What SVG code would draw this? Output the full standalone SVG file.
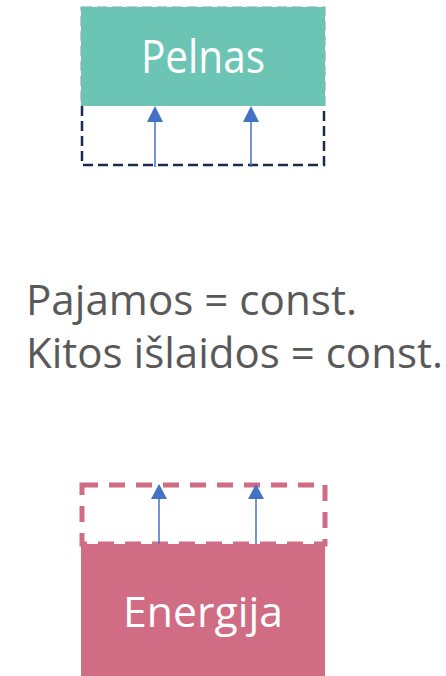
<svg xmlns="http://www.w3.org/2000/svg" width="446" height="676" viewBox="0 0 446 676">
<style>
.lbl{font-family:"Open Sans","Noto Sans",sans-serif;fill:#ffffff;text-anchor:middle}
.txt{font-family:"Open Sans","Noto Sans",sans-serif;fill:#595959;font-size:42px}
.shaft{stroke:#4472c4;stroke-width:1.5;fill:none}
.head{fill:#4472c4}
</style>
<rect width="446" height="676" fill="#ffffff"/>
<g id="pelnas">
<rect x="82" y="8" width="242" height="157" fill="none" stroke="#1a2a4e" stroke-width="2.5" stroke-dasharray="10,5"/>
<rect x="81" y="7" width="244" height="99" fill="#6cc5b4"/>
<text class="lbl" x="203" y="73" font-size="46" textLength="124" lengthAdjust="spacingAndGlyphs">Pelnas</text>
</g>
<g id="energija">
<rect x="82" y="485" width="243" height="59" fill="none" stroke="#d06d85" stroke-width="5" stroke-dasharray="16,11"/>
<rect x="81" y="544" width="244" height="132" fill="#d06d85"/>
<text class="lbl" x="203" y="627" font-size="42" textLength="160" lengthAdjust="spacingAndGlyphs">Energija</text>
</g>
<g id="texts">
<text class="txt" x="26" y="315" textLength="331" lengthAdjust="spacingAndGlyphs">Pajamos = const.</text>
<text class="txt" x="26" y="368" textLength="417" lengthAdjust="spacingAndGlyphs">Kitos išlaidos = const.</text>
</g>
<g id="connectors">
<line class="shaft" x1="155" y1="167" x2="155" y2="118"/>
<path class="head" d="M147,122 L155,106 L163,122 z"/>
<line class="shaft" x1="251" y1="167" x2="251" y2="118"/>
<path class="head" d="M243,122 L251,106 L259,122 z"/>
<line class="shaft" x1="159" y1="544" x2="159" y2="495"/>
<path class="head" d="M151,499 L159,484 L167,499 z"/>
<line class="shaft" x1="256" y1="544" x2="256" y2="495"/>
<path class="head" d="M248,499 L256,484 L264,499 z"/>
</g>
</svg>
